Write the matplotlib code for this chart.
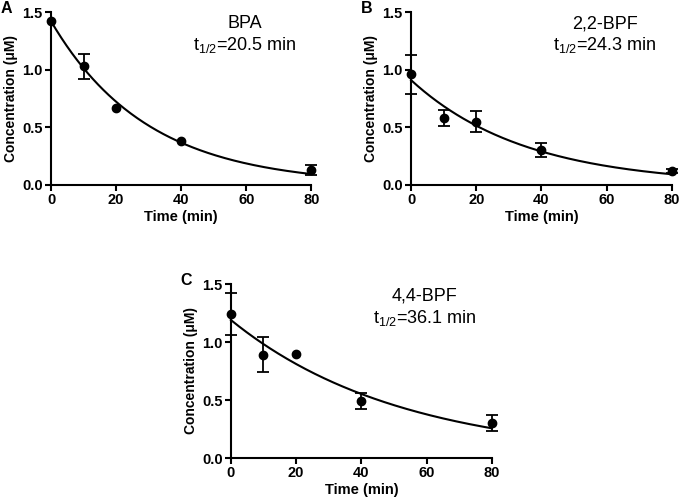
import matplotlib
matplotlib.use("Agg")
import matplotlib.pyplot as plt
import numpy as np

plt.rcParams['font.family'] = ['Liberation Sans', 'DejaVu Sans']
plt.rcParams['mathtext.fontset'] = 'custom'
plt.rcParams['mathtext.rm'] = 'Liberation Sans'

time_min = [0, 10, 20, 40, 80]

bpa_conc = [1.42, 1.03, 0.67, 0.38, 0.13]
bpa_err = [0.0, 0.11, 0.0, 0.0, 0.04]
bpa_c0 = 1.42
bpa_half = 20.5

bpf22_conc = [0.96, 0.58, 0.55, 0.30, 0.12]
bpf22_err = [0.17, 0.07, 0.09, 0.06, 0.02]
bpf22_c0 = 0.91
bpf22_half = 24.3

bpf44_conc = [1.24, 0.89, 0.90, 0.49, 0.30]
bpf44_err = [0.18, 0.15, 0.0, 0.07, 0.07]
bpf44_c0 = 1.19
bpf44_half = 36.1

panels = [
    ("A", "BPA", bpa_conc, bpa_err, bpa_c0, bpa_half, [0.0745, 0.63, 0.38, 0.346]),
    ("B", "2,2-BPF", bpf22_conc, bpf22_err, bpf22_c0, bpf22_half, [0.600, 0.63, 0.381, 0.346]),
    ("C", "4,4-BPF", bpf44_conc, bpf44_err, bpf44_c0, bpf44_half, [0.337, 0.084, 0.381, 0.348]),
]

fig = plt.figure(figsize=(6.85, 5.0), dpi=100)

for letter, name, conc, err, c0, half, rect in panels:
    ax = fig.add_axes(rect)
    # one-phase decay fit from the reported half-life
    tt = np.linspace(0, 80, 200)
    ax.plot(tt, c0 * np.exp(-np.log(2) / half * tt), color='black', lw=1.5, clip_on=False)
    x = np.array(time_min)
    y = np.array(conc)
    e = np.array(err)
    has = e > 0
    ax.errorbar(x[has], y[has], yerr=e[has], fmt='none', ecolor='black',
                capsize=4, elinewidth=1.3, capthick=1.3, clip_on=False)
    ax.plot(x, y, 'o', color='black', ms=6, clip_on=False, zorder=3)
    ax.set_xlim(0, 80)
    ax.set_ylim(0, 1.5)
    ax.set_xticks([0, 20, 40, 60, 80])
    ax.set_yticks([0.0, 0.5, 1.0, 1.5])
    ax.set_yticklabels(['0.0', '0.5', '1.0', '1.5'])
    for s in ['top', 'right']:
        ax.spines[s].set_visible(False)
    for s in ['left', 'bottom']:
        ax.spines[s].set_linewidth(1.5)
    ax.tick_params(width=1.5, length=4, labelsize=10.5, pad=2)
    for lab in ax.get_xticklabels() + ax.get_yticklabels():
        lab.set_fontweight('bold')
    ax.set_xlabel('Time (min)', fontsize=10.5, fontweight='bold', labelpad=2)
    ax.set_ylabel('Concentration (\u03bcM)', fontsize=10, fontweight='bold', labelpad=3)
    ax.text(59.5, 1.40, name, ha='center', va='center', fontsize=13)
    ax.text(59.5, 1.21, r'$\mathregular{t_{1/2}}$=%.1f min' % half, ha='center', va='center', fontsize=13)
    ax.text(-0.17, 1.02, letter, transform=ax.transAxes, fontsize=11.5, fontweight='bold',
            ha='center', va='center')

fig.savefig('out.png', dpi=100)
